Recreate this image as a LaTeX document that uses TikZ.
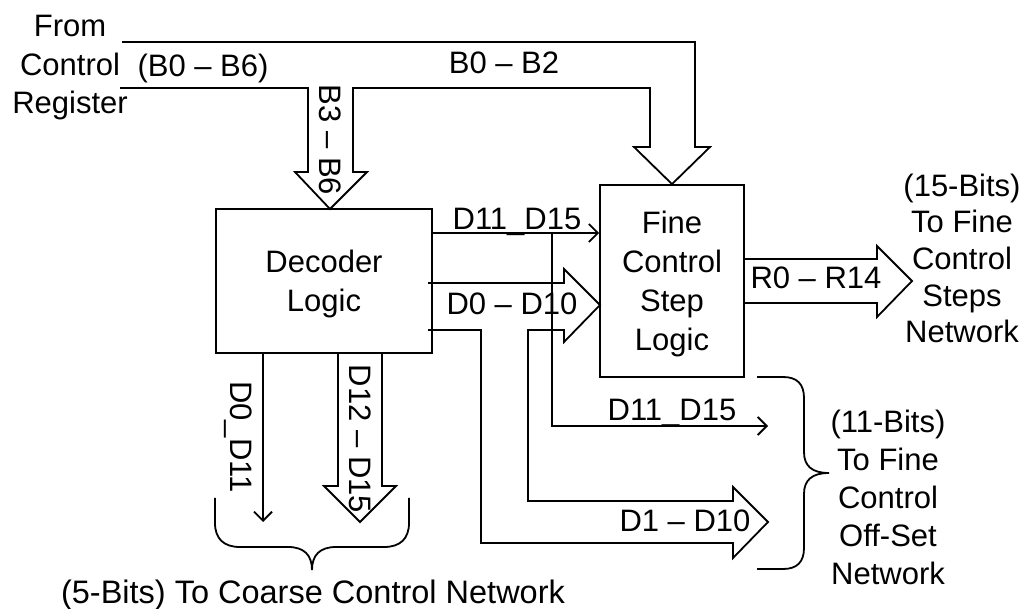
\documentclass[tikz,border=0pt]{standalone}
\usepackage{fontspec}
\setmainfont{Liberation Sans}
\usetikzlibrary{arrows.meta}
\begin{document}
\begin{tikzpicture}[x=1pt,y=-1pt,
  line width=1.8pt, line join=miter,
  lbl/.style={font=\fontsize{31}{38.5}\selectfont, inner sep=0pt},
  blk/.style={draw, line width=1.8pt, inner sep=0pt},
  blktext/.style={inner sep=0pt, align=center, font=\fontsize{31}{39}\selectfont},
  thinarr/.style={-{Straight Barb[length=9pt,width=18pt,line width=1.8pt]}},
  rlist/.style={font=\fontsize{31}{37.8}\selectfont, inner sep=0pt, align=center}
]
\useasboundingbox (0,0) rectangle (1026,609);

% blocks
\node[blk, minimum width=216pt, minimum height=144pt] (dec) at (324,281) {};
\node[blktext] (dect) at (dec.center) [yshift=-2.5pt] {Decoder\\Logic};
\node[blk, minimum width=144pt, minimum height=192pt] (fine) at (672,281) {};
\node[blktext] (finet) at (fine.center) [yshift=-3pt] {Fine\\Control\\Step\\Logic};

% input bus from control register
\draw (122,42) -- (695,42) -- (695,147) -- (710,147) -- (fine.north) -- (634,147) -- (650,147)
      -- (650,88) -- (353,88) -- (353,172) -- (367,172) -- (330,209) -- (295,172) -- (308,172)
      -- (308,88) -- (120,88);

% D0-D10 / D1-D10 fat arrows
\draw (428,283) -- (564,283) -- (564,269) -- (600,305) -- (564,342) -- (564,330) -- (528,330)
      -- (528,501) -- (733,501) -- (733,487) -- (768,522) -- (733,558) -- (733,543) -- (481,543)
      -- (481,330) -- (428,330);

% D11_D15 thin arrows
\coordinate (j1) at (552,233);
\draw[thinarr] (dec.east |- j1) -- (fine.west |- j1);
\coordinate (e1) at (768,426);
\draw[thinarr] (j1) |- (e1);

% R0-R14
\draw (fine.east |- 0,259) -- (877,259) -- (877,246) -- (912,281) -- (877,317) -- (877,303) -- (fine.east |- 0,303);

% bottom outputs of decoder
\coordinate (e2) at (263,522);
\draw[thinarr] (dec.south -| e2) -- (e2);
\draw (338,353) -- (338,486) -- (324,486) -- (360,522) -- (396,486) -- (382,486) -- (382,353);

% braces
\draw (215,498) -- (215,523) .. controls (215,539) and (224,547) .. (240,547) -- (288,547)
      .. controls (304,547) and (312,555) .. (312,570)
      .. controls (312,555) and (320,547) .. (336,547) -- (384,547)
      .. controls (400,547) and (409,539) .. (409,523) -- (409,498);
\draw (757,377) -- (783,377) .. controls (797,377) and (804,384) .. (804,398) -- (804,452)
      .. controls (804,466) and (812,473) .. (829,473)
      .. controls (812,473) and (804,480) .. (804,494) -- (804,548)
      .. controls (804,562) and (797,569) .. (783,569) -- (757,569);

% labels
\node[lbl, align=center] (src) at (70,68) {From\\Control\\Register};
\node[lbl, anchor=base] (b06) at (203,77) {(B0 – B6)};
\node[lbl, anchor=base] (b02) at (504,74) {B0 – B2};
\node[lbl, anchor=base, rotate=-90] (b36) at (319,140) {B3 – B6};
\node[lbl, anchor=base] (d1115a) at (517,230) {D11\_D15};
\node[lbl, anchor=base] (d010) at (512,315) {D0 – D10};
\node[lbl, anchor=base] (r014) at (816,289) {R0 – R14};
\node[lbl, anchor=base] (d1115b) at (672,421) {D11\_D15};
\node[lbl, anchor=base] (d110) at (685,531) {D1 – D10};
\node[lbl, anchor=base, rotate=-90] (d011) at (230,437) {D0\_D11};
\node[lbl, anchor=base, rotate=-90] (d1215) at (349,439) {D12 – D15};
\node[rlist, font=\fontsize{31}{36.7}\selectfont] (out15) at (962,258.5) {(15-Bits)\\To Fine\\Control\\Steps\\Network};
\node[rlist] (out11) at (888,497.5) {(11-Bits)\\To Fine\\Control\\Off-Set\\Network};
\node[lbl, anchor=base, font=\fontsize{32.5}{38.5}\selectfont] (coarse) at (313,603) {(5-Bits) To Coarse Control Network};
\end{tikzpicture}
\end{document}
